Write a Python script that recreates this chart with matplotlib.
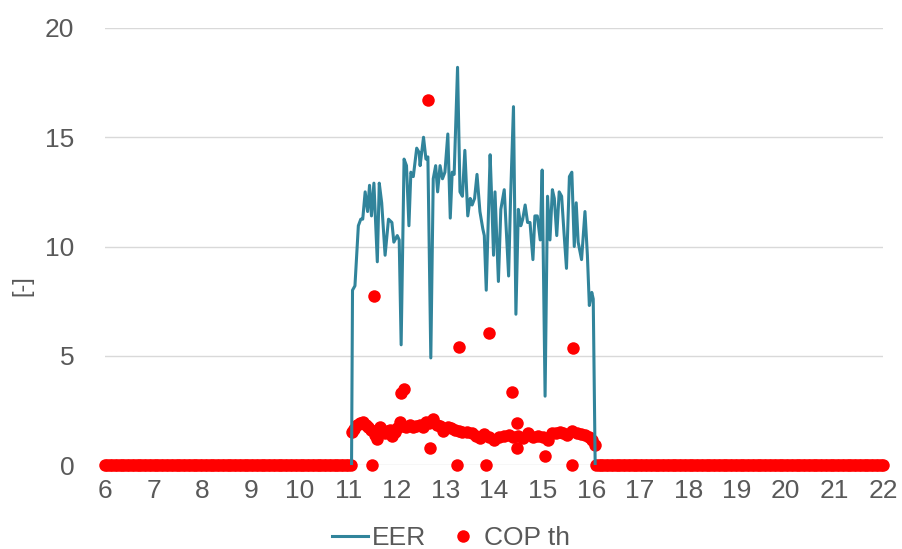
import numpy as np
import matplotlib.pyplot as plt

# EER line, only while the unit runs (hour of day, value)
eer_h = [11.07, 11.09, 11.14, 11.21, 11.26, 11.30, 11.35, 11.40, 11.44, 11.48,
         11.53, 11.60, 11.64, 11.69, 11.76, 11.83, 11.90, 11.94, 12.01, 12.05,
         12.09, 12.15, 12.20, 12.25, 12.29, 12.34, 12.41, 12.46, 12.48, 12.55,
         12.60, 12.64, 12.70, 12.75, 12.80, 12.84, 12.89, 12.94, 12.99, 13.05,
         13.10, 13.14, 13.18, 13.25, 13.30, 13.35, 13.40, 13.46, 13.51, 13.55,
         13.60, 13.65, 13.71, 13.77, 13.80, 13.84, 13.92, 13.95, 13.99, 14.02,
         14.09, 14.14, 14.21, 14.30, 14.34, 14.40, 14.45, 14.50, 14.55, 14.59,
         14.64, 14.69, 14.74, 14.80, 14.84, 14.89, 14.95, 14.99, 15.05, 15.10,
         15.15, 15.20, 15.24, 15.29, 15.34, 15.39, 15.44, 15.49, 15.55, 15.60,
         15.65, 15.69, 15.73, 15.80, 15.87, 15.92, 15.96, 16.01, 16.04, 16.08]
eer = [0, 8.0, 8.2, 10.95, 11.25, 11.25, 12.5, 11.6, 12.8, 11.4,
       12.9, 9.3, 12.9, 12.0, 9.6, 11.25, 11.1, 10.2, 10.5, 10.3,
       5.5, 14.0, 13.7, 10.95, 13.4, 13.2, 14.5, 14.3, 13.7, 15.0,
       14.0, 14.1, 4.9, 13.1, 13.7, 12.5, 13.7, 13.1, 13.4, 15.15,
       11.3, 13.4, 13.3, 18.2, 12.5, 12.3, 14.4, 11.4, 12.2, 11.9,
       12.2, 13.3, 11.6, 10.8, 10.5, 8.0, 14.2, 12.3, 9.6, 12.5,
       8.4, 11.7, 12.6, 8.65, 12.2, 16.4, 6.9, 11.7, 10.95, 11.25,
       11.9, 11.1, 11.1, 9.4, 11.4, 11.4, 10.3, 13.5, 3.15, 12.3,
       10.3, 12.6, 12.2, 10.5, 12.5, 12.3, 10.6, 9.0, 13.2, 13.4,
       10.0, 12.0, 10.2, 9.4, 11.6, 9.6, 7.3, 7.9, 7.6, 0]

# COP th while running
cop_h = [11.07, 11.12, 11.18, 11.25, 11.31, 11.36, 11.41, 11.48, 11.55, 11.60,
         11.65, 11.70, 11.76, 11.81, 11.86, 11.91, 11.96, 12.01, 12.06, 12.13,
         12.20, 12.27, 12.34, 12.40, 12.47, 12.53, 12.60, 12.67, 12.75, 12.82,
         12.89, 12.95, 13.05, 13.12, 13.20, 13.28, 13.35, 13.45, 13.55, 13.63,
         13.72, 13.80, 13.90, 14.00, 14.10, 14.20, 14.30, 14.40, 14.50, 14.60,
         14.70, 14.80, 14.90, 15.00, 15.10, 15.20, 15.28, 15.35, 15.42, 15.50,
         15.60, 15.70, 15.78, 15.87, 15.95, 16.01, 16.08,
         11.53, 12.09, 12.15, 12.64, 13.28, 13.90, 14.37, 15.62,
         11.49, 13.24, 13.84, 15.60, 12.68, 14.47, 14.47, 15.05]
cop = [1.52, 1.65, 1.83, 1.9, 1.98, 1.85, 1.75, 1.6, 1.37, 1.2,
       1.75, 1.6, 1.45, 1.55, 1.6, 1.35, 1.52, 1.7, 1.98, 1.8,
       1.75, 1.85, 1.75, 1.8, 1.83, 1.75, 1.98, 1.9, 2.1, 1.85,
       1.8, 1.55, 1.75, 1.7, 1.6, 1.55, 1.52, 1.5, 1.45, 1.35,
       1.22, 1.4, 1.3, 1.15, 1.3, 1.35, 1.37, 1.3, 1.35, 1.22,
       1.45, 1.3, 1.35, 1.3, 1.15, 1.45, 1.45, 1.52, 1.45, 1.37,
       1.55, 1.45, 1.4, 1.37, 1.3, 1.15, 0.92,
       7.75, 3.3, 3.5, 16.7, 5.4, 6.05, 3.35, 5.35,
       0, 0, 0, 0, 0.8, 1.9, 0.8, 0.4]

# unit off: COP th is 0
off_morning = np.arange(6.0, 11.06, 0.05)
off_evening = np.arange(16.1, 22.01, 0.05)

teal = '#31849b'
grey = '#595959'
font = 'Liberation Sans'

fig = plt.figure(figsize=(9.02, 5.49), dpi=100)
ax = fig.add_axes([0.1164, 0.153, 0.8626, 0.796])

off_h = np.concatenate([off_morning, off_evening])
all_h = np.concatenate([off_h, cop_h])
all_cop = np.concatenate([np.zeros(len(off_h)), cop])
ax.plot(all_h, all_cop, 'o', color='red', markersize=9, markeredgewidth=0,
        clip_on=False, zorder=3, label='COP th')
ax.plot(eer_h, eer, color=teal, lw=2.2, zorder=4, label='EER')

ax.set_xlim(6, 22)
ax.set_ylim(0, 20)
ax.set_xticks(range(6, 23))
ax.set_yticks([0, 5, 10, 15, 20])
ax.grid(axis='y', color='#d9d9d9', lw=1)
ax.set_axisbelow(True)
for s in ax.spines.values():
    s.set_visible(False)
ax.tick_params(length=0, labelsize=19, labelcolor=grey)
ax.tick_params(axis='x', pad=10)
ax.tick_params(axis='y', pad=22)
for t in ax.get_xticklabels() + ax.get_yticklabels():
    t.set_family(font)
ax.set_ylabel('[-]', fontsize=17, color=grey, family=font)
ax.yaxis.set_label_coords(-0.092, 0.41)

h, l = ax.get_legend_handles_labels()
fig.legend(h[::-1], l[::-1], loc='lower center', bbox_to_anchor=(0.5, -0.045),
           ncol=2, frameon=False, handlelength=1.4, columnspacing=0.7,
           handletextpad=0.12, prop={'family': font, 'size': 19}, labelcolor=grey)

fig.savefig('out.png', dpi=100)
